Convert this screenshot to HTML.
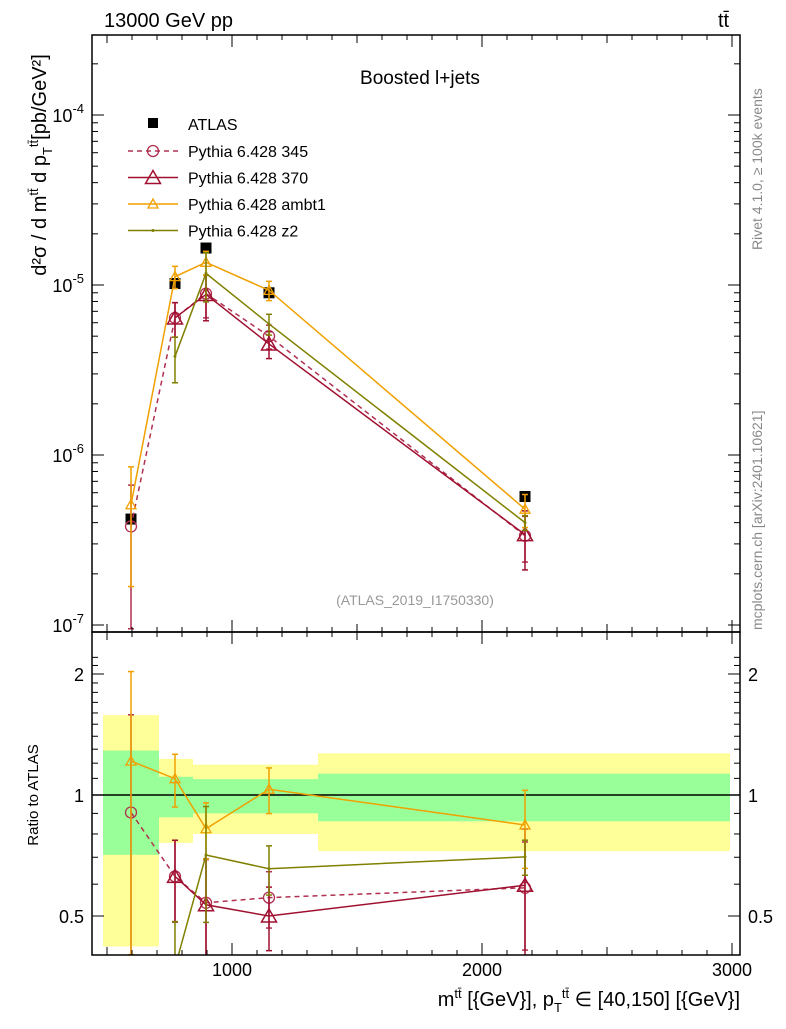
<!DOCTYPE html>
<html><head><meta charset="utf-8"><style>
body{margin:0;background:#fff}
svg{font-family:"Liberation Sans",sans-serif}
</style></head><body>
<svg id="c" width="786" height="1024" xmlns="http://www.w3.org/2000/svg">
<text x="104" y="27" font-size="20">13000 GeV pp</text>
<text x="718" y="27" font-size="20">tt̄</text>
<text x="420" y="84" font-size="19" text-anchor="middle">Boosted l+jets</text>
<text x="415" y="605" font-size="14" fill="#999" text-anchor="middle">(ATLAS_2019_I1750330)</text>
<text transform="translate(762,250) rotate(-90)" font-size="14" fill="#888">Rivet 4.1.0, ≥ 100k events</text>
<text transform="translate(762,630) rotate(-90)" font-size="14" fill="#888">mcplots.cern.ch [arXiv:2401.10621]</text>
<text transform="translate(46,165) rotate(-90)" font-size="20" text-anchor="middle">d²σ / d m<tspan font-size="13" dy="-8">tt̄</tspan><tspan dy="8"> d p</tspan><tspan font-size="13" dy="6">T</tspan><tspan font-size="13" dy="-14">tt̄</tspan><tspan dy="8">[pb/GeV²]</tspan></text>
<text transform="translate(38,795) rotate(-90)" font-size="15" text-anchor="middle">Ratio to ATLAS</text>
<text x="740" y="1006" font-size="20" text-anchor="end">m<tspan font-size="13" dy="-8">tt̄</tspan><tspan dy="8"> [{GeV}], p</tspan><tspan font-size="13" dy="6">T</tspan><tspan font-size="13" dy="-14">tt̄</tspan><tspan dy="8"> ∈ [40,150] [{GeV}]</tspan></text>
<g id="g"></g>
</svg>
<script>
const xs=[596,772,896,1148,2172];
const atlas=[4.2e-7,1.02e-5,1.65e-5,9.0e-6,5.7e-7];
const atlasErr=[0.06,0.06,0.06,0.06,0.06];
const p345=[3.8e-7,6.4e-6,8.9e-6,5.0e-6,3.35e-7];
const p370=[null,6.4e-6,8.8e-6,4.5e-6,3.4e-7];
const ambt1=[5.1e-7,1.12e-5,1.36e-5,9.3e-6,4.8e-7];
const z2=[null,3.8e-6,1.17e-5,5.9e-6,4.0e-7];
const e345=[0.75,0.23,0.28,0.16,0.3];
const e370=[0.75,0.23,0.3,0.18,0.38];
const eAmbt1=[0.67,0.15,0.16,0.13,0.22];
const eZ2=[0.7,0.3,0.32,0.14,0.1];
const binLo=[484,708,844,1000,1344];
const binHi=[708,844,1000,1344,2992];
const statLo=[0.71,0.88,0.90,0.90,0.86];
const statHi=[1.29,1.11,1.095,1.095,1.13];
const totLo=[0.42,0.76,0.80,0.80,0.725];
const totHi=[1.58,1.23,1.19,1.19,1.27];
const ratioTicks=[0.5,1,2];
const mainTicks=[-7,-6,-5,-4];
const xTickLabels=[1000,2000,3000];

const NS='http://www.w3.org/2000/svg',G=document.getElementById('g');
const L=92,R=740,T=35,M=632,B=955;
const X=v=>-18+v*0.25;
const Y=v=>455-170*(Math.log10(v)+6);
const RY=r=>795-402*Math.log10(r);
function el(t,a,p){const e=document.createElementNS(NS,t);for(const k in a)e.setAttribute(k,a[k]);(p||G).appendChild(e);return e;}
const defs=el('defs',{});
const c1=el('clipPath',{id:'cm'},defs);el('rect',{x:L,y:T,width:R-L,height:M-T},c1);
const c2=el('clipPath',{id:'cr'},defs);el('rect',{x:L,y:M,width:R-L,height:B-M},c2);
const gm=el('g',{'clip-path':'url(#cm)'});
const gr=el('g',{'clip-path':'url(#cr)'});
for(let i=0;i<binLo.length;i++){
 const b=el('rect',{x:X(binLo[i]),y:RY(totHi[i]),width:X(binHi[i])-X(binLo[i]),height:RY(totLo[i])-RY(totHi[i]),fill:'#ffff99'},gr);
 
 
 const s=el('rect',{x:X(binLo[i]),y:RY(statHi[i]),width:X(binHi[i])-X(binLo[i]),height:RY(statLo[i])-RY(statHi[i]),fill:'#99ff99'},gr);
 
 
}
el('line',{x1:L,x2:R,y1:RY(1),y2:RY(1),stroke:'#000','stroke-width':1.5},gr);
const f1=el('rect',{x:L,y:T,width:R-L,height:M-T,fill:'none',stroke:'#000','stroke-width':1.5});


const f2=el('rect',{x:L,y:M,width:R-L,height:B-M,fill:'none',stroke:'#000','stroke-width':1.5});


for(let v=500;v<=3000;v+=100){const x=X(v);if(x<L||x>R)continue;const len=v%1000==0?12:(v%500==0?8:5);
 for(const [y0,d] of [[B,-1],[M,-1],[M,1],[T,1]]) el('line',{x1:x,x2:x,y1:y0,y2:y0+d*len,stroke:'#000'});}
xTickLabels.forEach(v=>{const t=el('text',{x:X(v),y:976,'font-size':18,'text-anchor':'middle'});t.textContent=v;
 
 });
mainTicks.forEach(p=>{for(let k=1;k<10;k++){const y=Y(k*Math.pow(10,p));if(y<T||y>M)continue;const len=k==1?12:6;
 el('line',{x1:L,x2:L+len,y1:y,y2:y,stroke:'#000'});el('line',{x1:R,x2:R-len,y1:y,y2:y,stroke:'#000'});}
 const t=el('text',{x:84,y:Y(Math.pow(10,p))+7,'font-size':18,'text-anchor':'end'});t.innerHTML='10<tspan font-size="13" dy="-9">'+p+'</tspan>';
 
 });
for(let r=0.4;r<=2.3;r+=0.1){const y=RY(r);if(y<M||y>B)continue;const maj=ratioTicks.some(v=>Math.abs(v-r)<1e-6);const len=maj?12:6;
 el('line',{x1:L,x2:L+len,y1:y,y2:y,stroke:'#000'});el('line',{x1:R,x2:R-len,y1:y,y2:y,stroke:'#000'});}
ratioTicks.forEach(r=>{for(const [x,a] of [[84,'end'],[748,'start']]){const t=el('text',{x:x,y:RY(r)+7,'font-size':18,'text-anchor':a});t.textContent=r;
 
 }});
function marker(g,type,x,y,col){
 if(type=='circ')el('circle',{cx:x,cy:y,r:5.5,fill:'none',stroke:col,'stroke-width':1.3},g);
 else if(type=='tri')el('polygon',{points:`${x},${y-7} ${x-7.5},${y+6} ${x+7.5},${y+6}`,fill:'none',stroke:col,'stroke-width':1.5},g);
 else if(type=='stri')el('polygon',{points:`${x},${y-5} ${x-5},${y+4} ${x+5},${y+4}`,fill:'none',stroke:col,'stroke-width':1.3},g);
 else if(type=='dot')el('circle',{cx:x,cy:y,r:1.5,fill:col},g);
 else if(type=='sq')el('rect',{x:x-5.5,y:y-5.5,width:11,height:11,fill:'#000'},g);
}
const series=[
 {name:'p345',vals:p345,err:e345,col:'#b03050',dash:'5,4',m:'circ',label:'Pythia 6.428 345'},
 {name:'p370',vals:p370,err:e370,col:'#a01030',dash:'',m:'tri',label:'Pythia 6.428 370'},
 {name:'ambt1',vals:ambt1,err:eAmbt1,col:'#f0a000',dash:'',m:'stri',label:'Pythia 6.428 ambt1'},
 {name:'z2',vals:z2,err:eZ2,col:'#808000',dash:'',m:'dot',label:'Pythia 6.428 z2'}];
function draw(s,g,yf,ratio){
 const gg=el('g',{},g);
 
 
 let pts=[];
 xs.forEach((x,i)=>{const v=s.vals[i];if(v==null)return;const d=ratio?atlas[i]:1;
  const px=X(x),py=yf(v/d),lo=yf(v*(1-s.err[i])/d),hi=yf(v*(1+s.err[i])/d);
  el('line',{x1:px,x2:px,y1:lo,y2:hi,stroke:s.col,'stroke-width':1.5},gg);
  el('line',{x1:px-3,x2:px+3,y1:lo,y2:lo,stroke:s.col,'stroke-width':1.5},gg);
  el('line',{x1:px-3,x2:px+3,y1:hi,y2:hi,stroke:s.col,'stroke-width':1.5},gg);
  pts.push([px,py]);});
 el('polyline',{points:pts.map(p=>p.join(',')).join(' '),fill:'none',stroke:s.col,'stroke-width':1.5,'stroke-dasharray':s.dash},gg);
 pts.forEach(p=>marker(gg,s.m,p[0],p[1],s.col));
}
const ga=el('g',{},gm);


xs.forEach((x,i)=>{marker(ga,'sq',X(x),Y(atlas[i]));
 el('line',{x1:X(x),x2:X(x),y1:Y(atlas[i]*(1-atlasErr[i])),y2:Y(atlas[i]*(1+atlasErr[i])),stroke:'#000'},ga);});
series.forEach(s=>{draw(s,gm,Y,false);draw(s,gr,RY,true);});
const lg=el('g',{});


el('rect',{x:148,y:118,width:10,height:10,fill:'#000'},lg);
let t=el('text',{x:188,y:130,'font-size':16},lg);t.textContent='ATLAS';
series.forEach((s,i)=>{const y=151+i*26.5;
 el('line',{x1:128,x2:178,y1:y,y2:y,stroke:s.col,'stroke-width':1.5,'stroke-dasharray':s.dash},lg);
 marker(lg,s.m,153,y,s.col);
 const tt=el('text',{x:188,y:y+6,'font-size':16},lg);tt.textContent=s.label;});
</script>
</body></html>
